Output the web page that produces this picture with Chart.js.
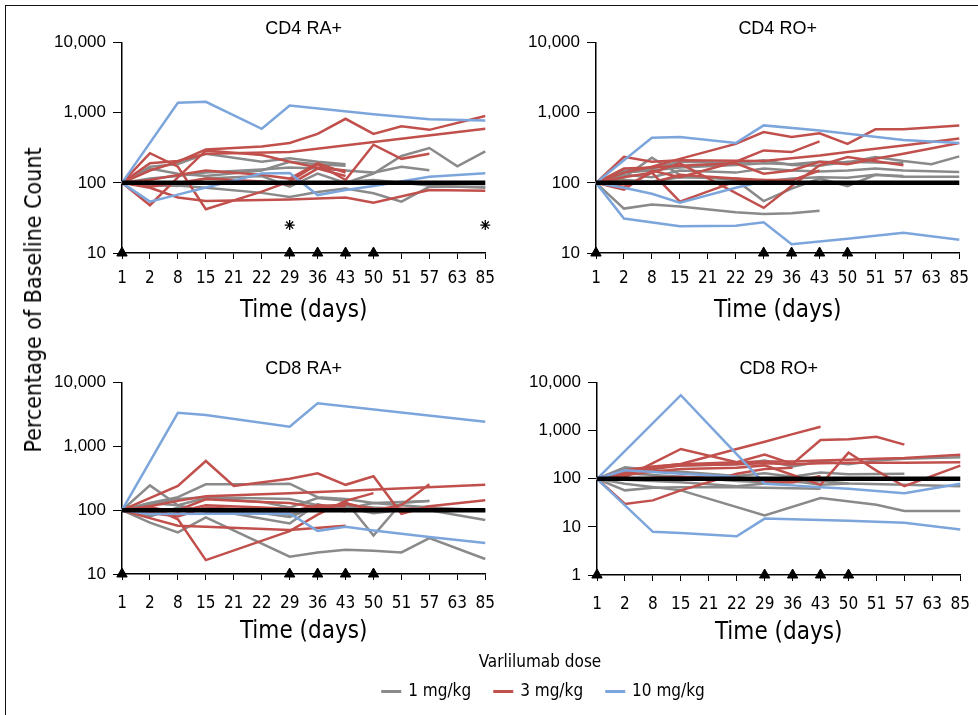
<!DOCTYPE html>
<html>
<head>
<script src="https://cdn.jsdelivr.net/npm/chart.js@4"></script>
<style>
  html, body { margin: 0; padding: 0; background: #fff; overflow: hidden; width: 978px; height: 715px; }
  #frame { position: absolute; left: 5px; top: 5px; width: 1200px; height: 900px; border-left: 1.5px solid #111; border-top: 1.5px solid #111; }
  canvas { position: absolute; }
  .narrow { font-family: 'Liberation Sans Narrow', 'Arial Narrow', 'DejaVu Sans Condensed', sans-serif; color: #000; }
  #ytitle { position: absolute; left: 33px; top: 300px; transform: translate(-50%, -50%) rotate(-90deg); font-size: 23px; white-space: nowrap; }
  #legTitle { position: absolute; left: 540px; top: 661px; transform: translate(-50%, -50%); font-size: 17px; white-space: nowrap; }
  #legend { position: absolute; left: 543px; top: 690px; transform: translate(-50%, -50%); display: flex; gap: 22px; font-size: 17px; white-space: nowrap; }
  #legend span.sw { display: inline-block; width: 20px; height: 3px; margin-right: 7px; vertical-align: middle; }
</style>
</head>
<body>
<div id="frame"></div>
<canvas id="c1" width="504" height="335" style="left:0px;top:0px"></canvas>
<canvas id="c2" width="504" height="335" style="left:474px;top:0px"></canvas>
<canvas id="c3" width="508" height="316" style="left:0px;top:340px"></canvas>
<canvas id="c4" width="508" height="317" style="left:475px;top:340px"></canvas>
<div id="ytitle" class="narrow">Percentage of Baseline Count</div>
<div id="legTitle" class="narrow">Varlilumab dose</div>
<div id="legend" class="narrow"></div>
<script>
const _ = null;
const days = ['1', '2', '8', '15', '21', '22', '29', '36', '43', '50', '51', '57', '63', '85'];
const doseDays = ['1', '29', '36', '43', '50'];
const starDays = ['29', '85'];
const starValue = 25;
const baseline = 100;
const ticks10 = [10, 100, 1000, 10000];
const ticks1 = [1, 10, 100, 1000, 10000];
const doseLabels = ['1 mg/kg', '3 mg/kg', '10 mg/kg'];
const doseColors = ['#8a8a8a', '#c1504d', '#7ca5dc'];

// CD4 RA+
const cd4raGray = [
  [100, 170, 185, 260, _, 200, 225, 200, 185, _, _, _, _, _],
  [100, 95, 90, 115, _, 125, 88, 136, 100, 136, 242, 314, 172, 282],
  [100, 115, 125, 140, _, 155, 165, 160, 150, 140, 170, 151, _, _],
  [100, 90, 92, 85, _, 72, 63, 74, 83, 71, 54, 88, _, 88],
  [100, 98, 102, 100, _, 98, 96, 100, 104, 110, _, 92, _, 85],
  [100, 160, 135, 125, _, 150, 200, 185, 175, _, _, _, _, _]
];
const cd4raRed = [
  [100, 150, 200, 300, _, 330, 370, 500, 820, 500, 640, 570, _, 900],
  [100, 190, 205, 260, _, _, 275, _, _, _, _, _, _, 590],
  [100, 265, 170, 42, _, 75, 105, 185, 110, 350, 220, 260, _, _],
  [100, 48, 120, 290, _, 250, 200, 165, 150, _, _, _, _, _],
  [100, 85, 62, 55, _, 57, 58, 60, 62, 52, _, 79, _, 77],
  [100, 110, 130, 150, _, 130, 115, 190, 140, _, _, _, _, _],
  [100, 88, 100, 115, _, 105, 95, 160, 125, _, _, _, _, _]
];
const cd4raBlue = [
  [100, _, 1390, 1430, _, 590, 1270, _, _, 950, _, 810, _, 775],
  [100, 54, 68, 86, _, 136, 138, 67, 79, 90, _, 122, _, 137]
];

// CD4 RO+
const cd4roGray = [
  [100, 43, 49, 46, _, 38, 36, 37, 40, _, _, _, _, _],
  [100, 120, 229, 130, _, 110, 55, 83, 115, 90, 130, 125, _, _],
  [100, 140, 150, 165, _, 180, 190, 185, 200, 195, 234, 205, 184, 239],
  [100, 130, 120, 150, _, 140, 160, 150, 145, 150, 160, 150, _, 143],
  [100, 110, 105, 120, _, 115, 105, 115, 120, 118, 130, 122, _, 122],
  [100, 150, 160, 200, _, 190, 210, 180, 175, 200, _, 190, _, _]
];
const cd4roRed = [
  [100, 140, 170, 220, _, 360, 530, 450, 510, 360, 580, 580, _, 660],
  [100, 235, 200, 210, _, _, 205, 225, 245, 275, _, 340, _, 430],
  [100, 80, 150, 120, _, 200, 290, 275, 390, _, _, _, _, _],
  [100, 160, 165, 175, _, 190, 135, 150, 200, 185, 220, 260, _, 370],
  [100, 120, 140, 190, _, _, 44, 90, 178, 234, _, 178, _, _],
  [100, 88, 140, 54, _, 105, 110, 110, _, _, _, _, _, _],
  [100, 105, 100, 130, _, 115, 110, 108, 150, _, _, _, _, _]
];
const cd4roBlue = [
  [100, 210, 440, 450, _, 370, 660, _, 560, _, _, 410, _, 370],
  [100, 85, 70, 52, _, 85, 105, _, _, _, _, _, _, _],
  [100, 31, _, 24, _, 24.5, 27.5, 13.3, _, 16, _, 19.5, _, 15.5]
];

// CD8 RA+
const cd8raGray = [
  [100, 245, 120, 95, _, 90, 78, 115, 110, 90, _, 115, _, _],
  [100, 130, 160, 255, 255, 255, 260, 160, 150, 130, _, 140, _, _],
  [100, 64, 45, 77, _, _, 18.7, 21.8, 24, 23.2, 21.8, 36.5, _, 17.2],
  [100, 130, 120, 155, _, 135, 110, 155, 140, 40, 130, 140, _, _],
  [100, 80, 110, 105, _, 95, 85, 115, 120, 110, _, 100, _, 70],
  [100, 125, 150, 160, _, _, 150, 120, 105, 130, _, 110, _, 100],
  [100, 90, 100, 105, _, _, 62, 125, 95, _, _, _, _, _]
];
const cd8raRed = [
  [100, _, 240, 590, 240, _, 310, 378, 250, 340, 88, 115, _, 143],
  [100, 115, 140, 165, _, _, 185, _, _, _, _, _, _, 250],
  [100, 110, 95, 120, _, 110, 105, 100, 130, 100, 120, 255, _, _],
  [100, 115, 72, 16.5, _, _, 47, 85, 140, 185, _, _, _, _],
  [100, 75, 57, 55, _, _, 49, _, 57, _, _, _, _, _],
  [100, 105, 100, 148, _, 135, 130, 110, 125, 105, _, 105, _, 98],
  [100, 90, 80, 110, _, 100, 95, 120, 115, _, _, _, _, _]
];
const cd8raBlue = [
  [100, _, 3360, 3100, _, _, 2030, 4750, _, _, _, _, _, 2430],
  [100, 87, _, _, _, _, 89, 47.5, 55, 48, _, 38, _, 30.5]
];

// CD8 RO+
const cd8roGray = [
  [100, 79, _, 57.5, _, _, 17.4, _, 40, _, 29, 21.4, _, 21.4],
  [100, 57.5, 65, 67, _, 67, _, _, 62, _, _, _, _, _],
  [100, 160, 170, 190, _, 200, 240, 180, 230, 200, 240, 260, _, 281],
  [100, 174, 150, 140, _, 115, 130, 110, 135, 125, _, 127, _, _],
  [100, 95, 90, 85, _, 70, 80, 85, 90, 80, _, 75, _, 70],
  [100, 130, 120, 110, _, 90, 85, 90, 75, 80, _, _, _, _]
];
const cd8roRed = [
  [100, 127, 174, 204, _, 417, 590, 850, 1210, _, _, _, _, _],
  [100, 108, _, 417, _, 221, 318, 204, 641, 661, 750, 513, _, _],
  [100, 30, 35.6, 57.5, _, 127, 160, 170, _, _, _, _, _, _],
  [100, 120, 140, 160, _, 170, 190, 120, 75, 351, 148, 70, _, 188],
  [100, 150, 180, 200, _, 220, 230, 230, 240, 250, 260, 270, _, 318],
  [100, 140, 160, 190, _, 200, 210, 200, 210, 215, _, 215, _, 221],
  [100, 95, 105, 110, _, 100, 90, 85, 115, _, _, _, _, _]
];
const cd8roBlue = [
  [100, _, _, 5470, _, _, 79, 73, 67, 62, _, 50, _, 79],
  [100, 150, 138, 128, _, 110, _, _, _, _, _, _, _, _],
  [100, _, 7.9, 7.5, _, 6.4, 14.9, _, _, 13.5, _, 12.2, _, 8.8]
];

const narrow = "'Liberation Sans Narrow', 'Arial Narrow', 'DejaVu Sans Condensed', sans-serif";
const plain = "'Liberation Sans', Arial, sans-serif";

function lineSet(rows, color, order) {
  return rows.map(r => ({
    data: r, borderColor: color, borderWidth: 2.5, pointRadius: 0,
    spanGaps: true, tension: 0, order: order
  }));
}

function panel(id, title, yMin, yTicks, gray, red, blue, tickPad, stars) {
  const datasets = [];
  datasets.push({
    data: days.map(d => doseDays.includes(d) ? yMin : null),
    showLine: false, pointStyle: 'triangle', pointRadius: 6,
    pointBackgroundColor: '#000', pointBorderColor: '#000', pointBorderWidth: 1,
    clip: false, order: -2
  });
  if (stars) {
    datasets.push({
      data: days.map(d => stars.includes(d) ? starValue : null),
      showLine: false, pointStyle: 'star', pointRadius: 5,
      pointBorderColor: '#000', pointBorderWidth: 1.3, clip: false, order: -2
    });
  }
  datasets.push({
    data: days.map(() => baseline), borderColor: '#000', borderWidth: 4.5,
    pointRadius: 0, order: -1
  });
  datasets.push(...lineSet(blue, doseColors[2], 1));
  datasets.push(...lineSet(red, doseColors[1], 2));
  datasets.push(...lineSet(gray, doseColors[0], 3));

  new Chart(document.getElementById(id), {
    type: 'line',
    data: { labels: days, datasets: datasets },
    options: {
      responsive: false, animation: false, devicePixelRatio: 1,
      layout: { padding: { left: 0, right: 15, top: 0, bottom: 0 } },
      plugins: {
        legend: { display: false },
        tooltip: { enabled: false },
        title: {
          display: true, text: title, fullSize: false, color: '#000',
          font: { family: plain, size: 18, weight: 'normal' },
          padding: { top: 18, bottom: 3 }
        }
      },
      scales: {
        x: {
          type: 'category', offset: false,
          grid: { drawOnChartArea: false, color: '#000', tickLength: 6 },
          border: { color: '#000', width: 1.5 },
          ticks: { color: '#000', font: { family: narrow, size: 17 }, padding: tickPad, autoSkip: false, maxRotation: 0 },
          title: { display: true, text: 'Time (days)', color: '#000', font: { family: narrow, size: 24 }, padding: { top: 0, bottom: 10 } },
          afterFit: s => { s.height = 82; }
        },
        y: {
          type: 'logarithmic', min: yMin, max: 10000,
          afterBuildTicks: s => { s.ticks = yTicks.map(v => ({ value: v })); },
          grid: { drawOnChartArea: false, color: '#000', tickLength: 9 },
          border: { color: '#000', width: 1.5 },
          ticks: { color: '#000', font: { family: plain, size: 17 }, padding: 7, callback: v => Number(v).toLocaleString('en-US') },
          afterFit: s => { s.width = 122; }
        }
      }
    }
  });
}

panel('c1', 'CD4 RA+', 10, ticks10, cd4raGray, cd4raRed, cd4raBlue, 9, starDays);
panel('c2', 'CD4 RO+', 10, ticks10, cd4roGray, cd4roRed, cd4roBlue, 9);
panel('c3', 'CD8 RA+', 10, ticks10, cd8raGray, cd8raRed, cd8raBlue, 13);
panel('c4', 'CD8 RO+', 1, ticks1, cd8roGray, cd8roRed, cd8roBlue, 13);

const leg = document.getElementById('legend');
doseLabels.forEach((t, i) => {
  const item = document.createElement('span');
  item.innerHTML = '<span class="sw" style="background:' + doseColors[i] + '"></span>' + t;
  leg.appendChild(item);
});
</script>
</body>
</html>
